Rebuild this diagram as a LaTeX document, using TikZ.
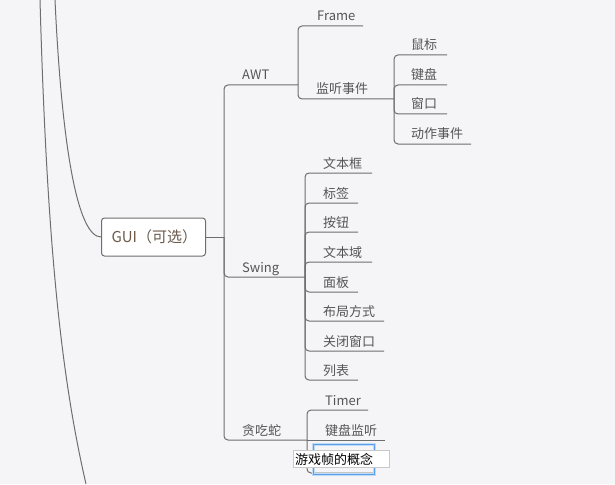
\documentclass[tikz,border=0pt]{standalone}
\usepackage{fontspec}
\setmainfont{Noto Sans CJK SC}
\definecolor{bgc}{HTML}{F5F5F7}
\definecolor{linec}{HTML}{6E6E6E}
\definecolor{txtc}{HTML}{555555}
\definecolor{guitxt}{HTML}{6B5B4B}
\definecolor{selblue}{HTML}{5AA0E8}
\definecolor{selblue2}{HTML}{BFDBF7}
\definecolor{editbd}{HTML}{C8C8C8}
\begin{document}
\begin{tikzpicture}[x=1pt,y=-1pt,
  br/.style={draw=linec, line width=1pt, rounded corners=4pt},
  lbl/.style={anchor=base west, inner sep=0pt, text=txtc, font=\fontsize{13}{15}\selectfont},
  curve/.style={draw=linec, line width=1pt},
]
\useasboundingbox[fill=bgc] (0,0) rectangle (615,484);

% root-ish node
\node[draw=linec, line width=1pt, fill=white, rounded corners=3pt,
      anchor=west, minimum height=38pt, text width=84pt, inner xsep=10pt, align=left,
      text=guitxt, font=\fontsize{15}{17}\selectfont] (gui) at (101,237) {GUI（可选）};

% long left curves
\coordinate (ta) at (40,0);
\coordinate (ba) at (86,484);
\coordinate (tb) at (55,0);
\draw[curve] (ta) .. controls (47,250) and (62,380) .. (ba);
\draw[curve] (tb) .. controls (62,150) and (78,237) .. (gui.west);

% trunk
\coordinate (j0) at (224,237);
\draw[br] (gui.east) -- (j0);
\coordinate (awtE) at (298,85);
\coordinate (swE) at (305,277);
\coordinate (snE) at (307,440);
\draw[br] (j0) |- (awtE);
\draw[br] (j0) |- (swE);
\draw[br] (j0) |- (snE);
\node[lbl] (awt) at (242,80) {AWT};
\node[lbl] (swing) at (242,272) {Swing};
\node[lbl] (snake) at (242,435) {贪吃蛇};

% AWT children
\coordinate (frE) at (363,26);
\coordinate (lsE) at (394,99);
\draw[br] (awtE) |- (frE);
\draw[br] (awtE) |- (lsE);
\node[lbl] (frame) at (317,21) {Frame};
\node[lbl] (listen) at (316,94) {监听事件};

% listener children
\coordinate (l1) at (447,55);
\coordinate (l2) at (447,85);
\coordinate (l3) at (447,114);
\coordinate (l4) at (471,144);
\foreach \c in {l1,l2,l3,l4} {\draw[br] (lsE) |- (\c);}
\node[lbl] (mouse) at (411,50) {鼠标};
\node[lbl] (kbd) at (411,80) {键盘};
\node[lbl] (win) at (411,109) {窗口};
\node[lbl] (act) at (411,139) {动作事件};

% Swing children
\coordinate (s1) at (372,173);
\coordinate (s2) at (358,203);
\coordinate (s3) at (358,232);
\coordinate (s4) at (372,262);
\coordinate (s5) at (358,292);
\coordinate (s6) at (384,321);
\coordinate (s7) at (384,351);
\coordinate (s8) at (358,380);
\foreach \c in {s1,s2,s3,s4,s5,s6,s7,s8} {\draw[br] (swE) |- (\c);}
\node[lbl] (tf) at (323,168) {文本框};
\node[lbl] (lab) at (323,198) {标签};
\node[lbl] (btn) at (323,227) {按钮};
\node[lbl] (ta2) at (323,257) {文本域};
\node[lbl] (pnl) at (323,287) {面板};
\node[lbl] (lay) at (323,316) {布局方式};
\node[lbl] (cls) at (323,346) {关闭窗口};
\node[lbl] (lst) at (323,375) {列表};

% Snake children
\coordinate (n1) at (368,410);
\coordinate (n2) at (385,440);
\coordinate (n3) at (373,473);
\draw[br] (snE) |- (n1);
\draw[br] (snE) -- (n2);
\draw[br] (snE) |- (n3);
\node[lbl] (timer) at (325,405) {Timer};
\node[lbl] (kl) at (325,435) {键盘监听};

% selection + edit box
\draw[draw=selblue2, line width=3pt] (313,444) rectangle (374,474);
\draw[draw=selblue, line width=1pt] (313,444) rectangle (374,474);
\node[draw=editbd, line width=0.8pt, fill=white, anchor=north west, inner sep=0pt,
      minimum width=96pt, minimum height=17pt] (edit) at (293,450) {};
\node[anchor=west, inner sep=0pt, text=black, font=\fontsize{13}{15}\selectfont] (game) at (295,459) {游戏帧的概念};
\end{tikzpicture}
\end{document}
